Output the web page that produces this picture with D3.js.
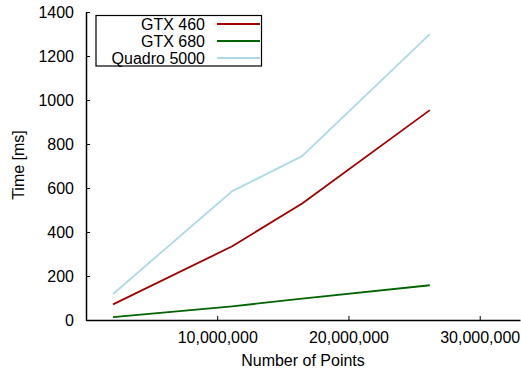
<!DOCTYPE html>
<html>
<head>
<meta charset="utf-8">
<script src="https://cdn.jsdelivr.net/npm/d3@7"></script>
<style>
  html, body { margin: 0; padding: 0; background: #fff; }
  svg { display: block; font-family: "Liberation Sans", Arial, sans-serif; }
</style>
</head>
<body>
<div id="chart"></div>
<script>
// Benchmark: rendering time vs. number of points for three GPUs
const pointCounts = [2060000, 11140000, 16470000, 26200000];
const seriesNames = ["GTX 460", "GTX 680", "Quadro 5000"];
const gtx460 = [71, 335, 530, 954];
const gtx680 = [13, 62, 97, 158];
const quadro5000 = [118, 586, 745, 1299];
const seriesColors = ["#a00000", "#006400", "#add8e6"];
const yTicks = [0, 200, 400, 600, 800, 1000, 1200, 1400];
const xTicks = [10000000, 20000000, 30000000];

const width = 521, height = 372;
const margin = { left: 86, right: 1, top: 12, bottom: 52 };

const svg = d3.select("#chart").append("svg")
  .attr("width", width).attr("height", height);

const x = d3.scaleLinear()
  .domain([0, 33070000])
  .range([margin.left, width - margin.right]);
const y = d3.scaleLinear()
  .domain([0, 1400])
  .range([height - margin.bottom, margin.top]);

const fmt = d3.format(",");
const fontSize = 16;

// Y axis (ticks point inward)
const yAxis = svg.append("g")
  .attr("transform", `translate(${margin.left},0)`)
  .call(d3.axisLeft(y).tickValues(yTicks).tickFormat(d3.format("d"))
    .tickSizeInner(-4).tickSizeOuter(0).tickPadding(12));
// X axis (ticks point inward)
const xAxis = svg.append("g")
  .attr("transform", `translate(0,${height - margin.bottom})`)
  .call(d3.axisBottom(x).tickValues(xTicks).tickFormat(fmt)
    .tickSizeInner(-4).tickSizeOuter(0).tickPadding(12));

[yAxis, xAxis].forEach(g => {
  g.select(".domain").attr("stroke", "#000").attr("stroke-width", 1.5);
  g.selectAll(".tick line").attr("stroke", "#000").attr("stroke-width", 1);
  g.selectAll(".tick text")
    .attr("font-family", "Liberation Sans, Arial, sans-serif")
    .attr("font-size", fontSize)
    .attr("fill", "#000");
});

// Axis titles
svg.append("text")
  .attr("x", x(0) + (x.range()[1] - x(0)) / 2)
  .attr("y", 366)
  .attr("text-anchor", "middle")
  .attr("font-size", fontSize)
  .text("Number of Points");

svg.append("text")
  .attr("transform", "translate(24,165) rotate(-90)")
  .attr("text-anchor", "middle")
  .attr("font-size", fontSize)
  .text("Time [ms]");

// Series lines
const seriesValues = [gtx460, gtx680, quadro5000];
const line = d3.line()
  .x((d, i) => x(pointCounts[i]))
  .y(d => y(d));

seriesValues.forEach((vals, k) => {
  svg.append("path")
    .datum(vals)
    .attr("fill", "none")
    .attr("stroke", seriesColors[k])
    .attr("stroke-width", 1.8)
    .attr("stroke-linejoin", "round")
    .attr("d", line);
});

// Legend
const legend = svg.append("g");
legend.append("rect")
  .attr("x", 96).attr("y", 15.5)
  .attr("width", 165.5).attr("height", 50.5)
  .attr("fill", "#fff").attr("stroke", "#000").attr("stroke-width", 1.2);

seriesNames.forEach((name, k) => {
  const cy = 24 + k * 17;
  legend.append("text")
    .attr("x", 205).attr("y", cy)
    .attr("dy", "0.36em")
    .attr("text-anchor", "end")
    .attr("font-size", fontSize)
    .text(name);
  legend.append("line")
    .attr("x1", 217).attr("x2", 260)
    .attr("y1", cy).attr("y2", cy)
    .attr("stroke", seriesColors[k])
    .attr("stroke-width", 1.8);
});
</script>
</body>
</html>
